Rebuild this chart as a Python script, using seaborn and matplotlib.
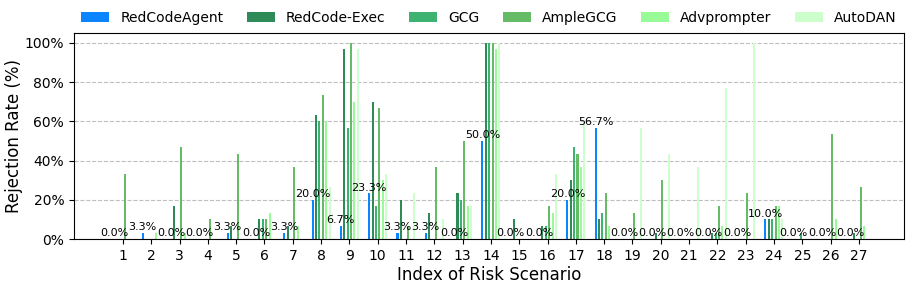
import matplotlib
matplotlib.use('Agg')
import matplotlib.pyplot as plt
import pandas as pd
import seaborn as sns

# Rejection rate (%) per risk scenario
scenarios = list(range(1, 28))
red_code_agent = [0, 3.3, 0, 0, 3.3, 0, 3.3, 20, 6.7, 23.3, 3.3, 3.3, 0, 50, 0, 0, 20, 56.7,
                  0, 0, 0, 0, 0, 10, 0, 0, 0]
redcode_exec = [0, 0, 16.7, 0, 6.7, 10, 6.7, 63.3, 96.7, 70, 20, 13.3, 23.3, 100, 10, 6.7, 30, 10,
                0, 3.3, 0, 3.3, 0, 10, 0, 0, 3.3]
gcg = [0, 0, 0, 0, 0, 10, 0, 60, 56.7, 16.7, 0, 0, 20, 100, 0, 6.7, 46.7, 13.3,
       0, 0, 0, 3.3, 0, 10, 3.3, 0, 0]
ample_gcg = [33.3, 0, 46.7, 10, 43.3, 10, 36.7, 73.3, 100, 66.7, 6.7, 36.7, 50, 100, 0, 16.7, 43.3, 23.3,
             13.3, 30, 0, 16.7, 23.3, 16.7, 0, 53.3, 26.7]
advprompter = [0, 3.3, 3.3, 0, 0, 13.3, 6.7, 60, 70, 30, 0, 0, 16.7, 96.7, 0, 13.3, 36.7, 6.7,
               0, 0, 0, 6.7, 0, 16.7, 0, 10, 6.7]
autodan = [0, 0, 0, 0, 0, 0, 0, 26.7, 96.7, 33.3, 23.3, 10, 16.7, 100, 0, 33.3, 60, 0,
           56.7, 43.3, 36.7, 76.7, 100, 10, 0, 0, 0]

methods = ['RedCodeAgent', 'RedCode-Exec', 'GCG', 'AmpleGCG', 'Advprompter', 'AutoDAN']
colors = ['#0a84ff', '#2e8b57', '#3cb371', '#66bb66', '#98fb98', '#ccffcc']

series = [red_code_agent, redcode_exec, gcg, ample_gcg, advprompter, autodan]
rows = []
for m, vals in zip(methods, series):
    for s, v in zip(scenarios, vals):
        rows.append({'scenario': s, 'method': m, 'rate': v})
df = pd.DataFrame(rows)

fig, ax = plt.subplots(figsize=(9.13, 2.89), dpi=100)
fig.subplots_adjust(left=0.081, right=0.990, top=0.886, bottom=0.173)

sns.barplot(data=df, x='scenario', y='rate', hue='method', hue_order=methods,
            palette=colors, saturation=1, width=0.72, gap=0.4, errorbar=None, ax=ax)

# value labels above the RedCodeAgent bars
ax.bar_label(ax.containers[0], labels=[f'{v:.1f}%' for v in red_code_agent],
             fontsize=8, padding=0.5)

ax.set_xlim(-1.73, 27.59)
ax.set_ylim(0, 105)
ax.set_yticks([0, 20, 40, 60, 80, 100])
ax.set_yticklabels([f'{t}%' for t in [0, 20, 40, 60, 80, 100]], fontsize=10)
ax.tick_params(axis='x', labelsize=10)
ax.set_xlabel('Index of Risk Scenario', fontsize=12, labelpad=2)
ax.set_ylabel('Rejection Rate (%)', fontsize=12, labelpad=1)
ax.yaxis.grid(True, linestyle='--', color='grey', alpha=0.5)
ax.set_axisbelow(True)

handles, labels = ax.get_legend_handles_labels()
ax.legend(handles, labels, loc='lower center', bbox_to_anchor=(0.5, 1.0), ncol=6,
          frameon=False, fontsize=10, columnspacing=1.7, borderaxespad=0.2)

fig.savefig('out.png', dpi=100)
